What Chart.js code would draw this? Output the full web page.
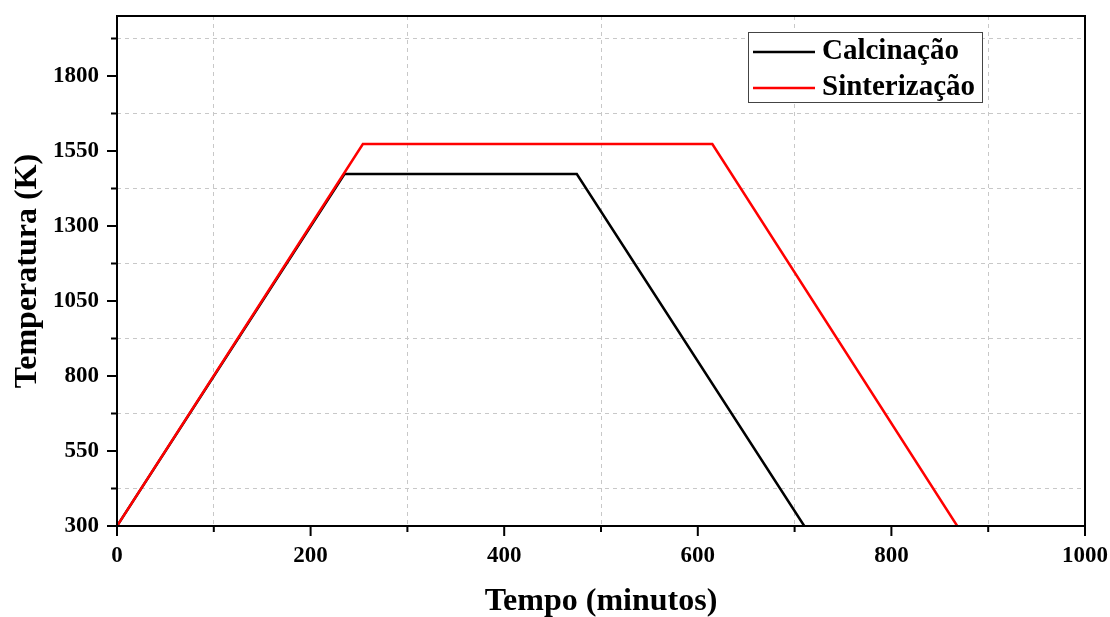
<!DOCTYPE html>
<html>
<head>
<meta charset="utf-8">
<script src="https://cdn.jsdelivr.net/npm/chart.js"></script>
<title>Temperatura x Tempo</title>
<style>
  body { margin: 0; background: #fff; }
</style>
</head>
<body>
<canvas id="chart" width="1110" height="617"></canvas>
<script>
// data
const seriesNames = ['Calcinação', 'Sinterização'];
const calcTime = [0, 235, 475, 710];
const calcTemp = [300, 1473, 1473, 300];
const sintTime = [0, 254, 615, 868];
const sintTemp = [300, 1573, 1573, 300];

// axis ticks: labelled (major) and unlabelled (minor, carry the dashed grid)
const xTickLabels = [0, 200, 400, 600, 800, 1000];
const xMinorTicks = [100, 300, 500, 700, 900];
const yTickLabels = [300, 550, 800, 1050, 1300, 1550, 1800];
const yMinorTicks = [425, 675, 925, 1175, 1425, 1675, 1925];

const serif = "'Liberation Serif', 'Times New Roman', serif";

function toPoints(xs, ys) {
  return xs.map((x, i) => ({ x: x, y: ys[i] }));
}

function setTicks(major, minor) {
  return function (scale) {
    scale.ticks = major.concat(minor).sort((a, b) => a - b).map(v => ({ value: v }));
  };
}

function minorGrid(minor) {
  return ctx => (ctx.tick && minor.includes(ctx.tick.value)) ? '#c8c8c8' : 'rgba(0,0,0,0)';
}

// fixed axis sizes, no extra room for overflowing labels
function fitAxis(size) {
  return function (s) {
    if (s.isHorizontal()) s.height = size; else s.width = size;
    s.paddingLeft = s.paddingRight = s.paddingTop = s.paddingBottom = 0;
  };
}

// frame, outward tick marks and the boxed legend
const framePlugin = {
  id: 'frame',
  afterDraw(chart) {
    const ctx = chart.ctx;
    const a = chart.chartArea;
    const xs = chart.scales.x, ys = chart.scales.y;
    ctx.save();
    ctx.strokeStyle = '#000';
    ctx.lineWidth = 2;
    ctx.strokeRect(a.left, a.top, a.right - a.left, a.bottom - a.top);

    ctx.beginPath();
    xs.ticks.forEach(t => {
      const px = xs.getPixelForValue(t.value);
      const len = xTickLabels.includes(t.value) ? 10 : 6;
      ctx.moveTo(px, a.bottom);
      ctx.lineTo(px, a.bottom + len);
    });
    ys.ticks.forEach(t => {
      const py = ys.getPixelForValue(t.value);
      const len = yTickLabels.includes(t.value) ? 10 : 6;
      ctx.moveTo(a.left, py);
      ctx.lineTo(a.left - len, py);
    });
    ctx.stroke();

    // legend
    const bx = a.right - 337, by = a.top + 16, bw = 234, bh = 70;
    ctx.fillStyle = '#fff';
    ctx.fillRect(bx, by, bw, bh);
    ctx.strokeStyle = '#444';
    ctx.lineWidth = 1;
    ctx.strokeRect(bx + 0.5, by + 0.5, bw, bh);
    ctx.font = 'bold 29px ' + serif;
    ctx.textBaseline = 'middle';
    ctx.textAlign = 'left';
    chart.data.datasets.forEach((ds, i) => {
      const ly = by + 20 + i * 36;
      ctx.strokeStyle = ds.borderColor;
      ctx.lineWidth = 2.5;
      ctx.beginPath();
      ctx.moveTo(bx + 5, ly);
      ctx.lineTo(bx + 67, ly);
      ctx.stroke();
      ctx.fillStyle = '#000';
      ctx.fillText(ds.label, bx + 74, ly);
    });
    ctx.restore();
  }
};

new Chart(document.getElementById('chart'), {
  type: 'line',
  data: {
    datasets: [
      {
        label: seriesNames[0],
        data: toPoints(calcTime, calcTemp),
        borderColor: '#000000',
        borderWidth: 2.5,
        pointRadius: 0,
        tension: 0,
        order: 1
      },
      {
        label: seriesNames[1],
        data: toPoints(sintTime, sintTemp),
        borderColor: '#ff0000',
        borderWidth: 2.5,
        pointRadius: 0,
        tension: 0,
        order: 0
      }
    ]
  },
  options: {
    responsive: false,
    animation: false,
    layout: { padding: { top: 16, right: 25, left: 0, bottom: 0 } },
    plugins: {
      legend: { display: false },
      tooltip: { enabled: false }
    },
    scales: {
      x: {
        type: 'linear',
        min: 0,
        max: 1000,
        afterBuildTicks: setTicks(xTickLabels, xMinorTicks),
        afterFit: fitAxis(91),
        ticks: {
          autoSkip: false,
          maxRotation: 0,
          padding: 16,
          color: '#000',
          font: { family: serif, size: 23, weight: 'bold' },
          callback: v => xTickLabels.includes(v) ? String(v) : ''
        },
        grid: { color: minorGrid(xMinorTicks), lineWidth: 1, drawTicks: false },
        border: { display: false, dash: [4, 4] },
        title: {
          display: true,
          text: 'Tempo (minutos)',
          color: '#000',
          font: { family: serif, size: 32, weight: 'bold' },
          padding: { top: 0, bottom: -4 }
        }
      },
      y: {
        type: 'linear',
        min: 300,
        max: 2000,
        afterBuildTicks: setTicks(yTickLabels, yMinorTicks),
        afterFit: fitAxis(117),
        ticks: {
          autoSkip: false,
          padding: 18,
          color: '#000',
          font: { family: serif, size: 23, weight: 'bold' },
          callback: v => yTickLabels.includes(v) ? String(v) : ''
        },
        grid: { color: minorGrid(yMinorTicks), lineWidth: 1, drawTicks: false },
        border: { display: false, dash: [4, 4] },
        title: {
          display: true,
          text: 'Temperatura (K)',
          color: '#000',
          font: { family: serif, size: 32, weight: 'bold' },
          padding: { top: 9, bottom: 0 }
        }
      }
    }
  },
  plugins: [framePlugin]
});
</script>
</body>
</html>
